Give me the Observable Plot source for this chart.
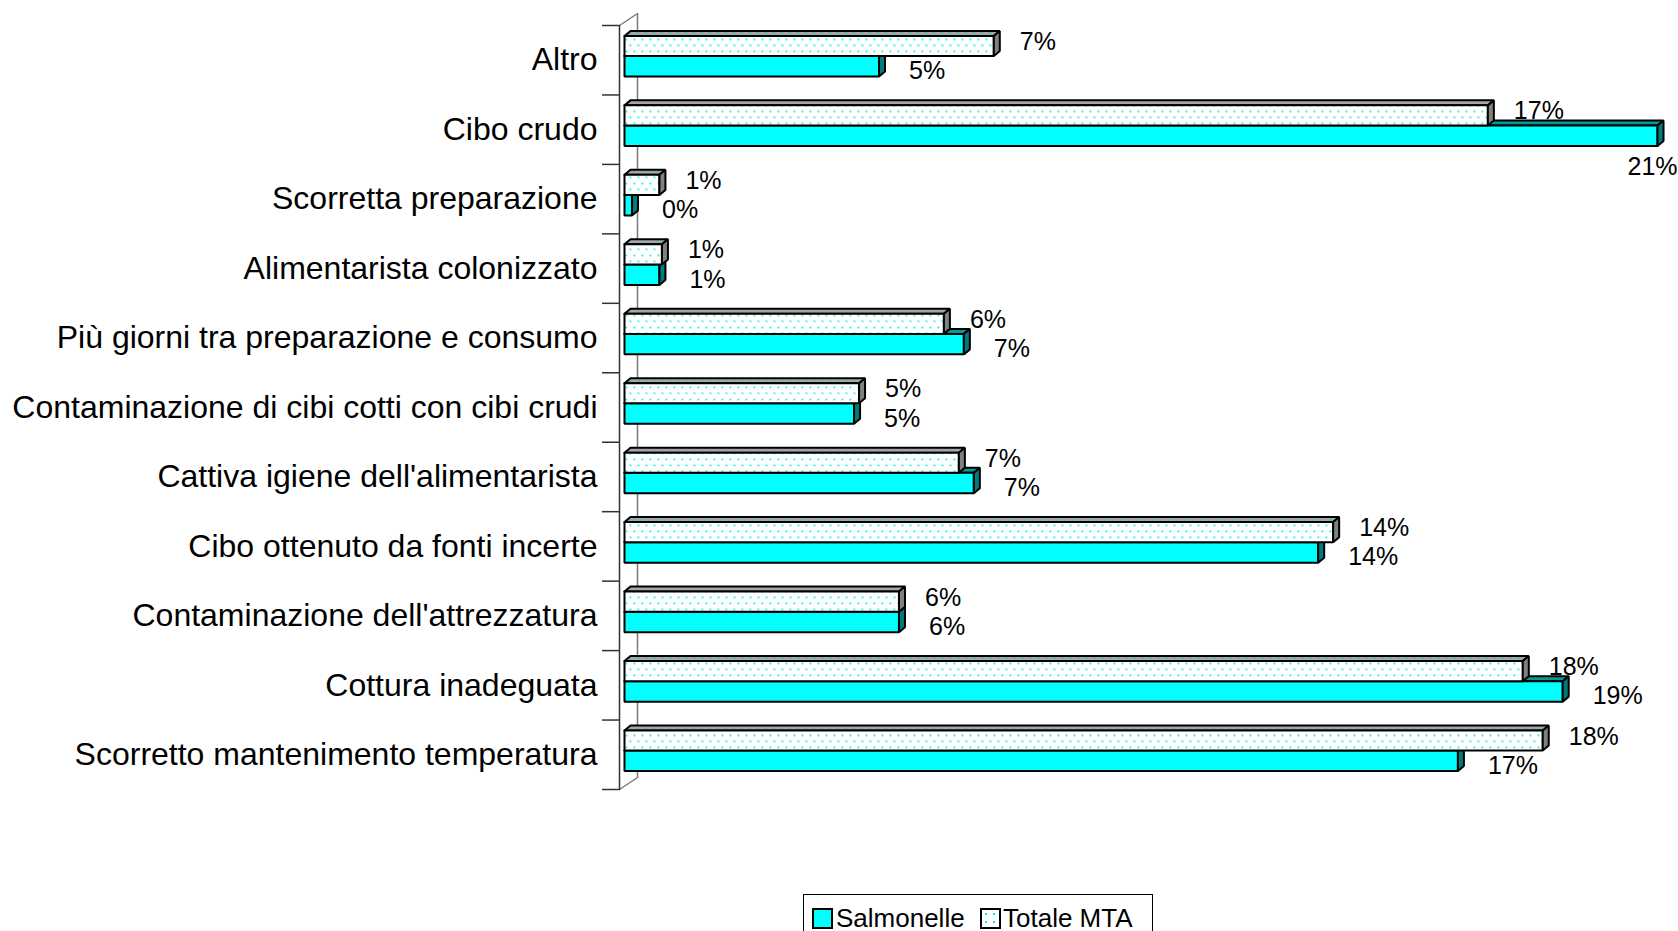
<!DOCTYPE html>
<html><head><meta charset="utf-8">
<script src="https://cdn.jsdelivr.net/npm/d3@7"></script>
<script src="https://cdn.jsdelivr.net/npm/@observablehq/plot@0.6"></script>
<style>
html,body{margin:0;padding:0;background:#fff;overflow:hidden;}
body{width:1678px;height:931px;position:relative;font-family:"Liberation Sans",Arial,sans-serif;}
#chart svg{display:block;}
#legend{position:absolute;left:803px;top:894px;width:350px;height:46px;border:1px solid #000;box-sizing:border-box;background:#fff;}
.sw{position:absolute;top:13px;width:21px;height:21px;box-sizing:border-box;border:2px solid #000;}
.lt{position:absolute;top:8px;font-size:26px;line-height:30px;color:#000;white-space:nowrap;}
</style></head><body>
<svg width="0" height="0" style="position:absolute"><defs>
<pattern id="dots" width="8" height="12" patternUnits="userSpaceOnUse">
<rect width="8" height="12" fill="#fff"/>
<rect x="1" y="2" width="1.7" height="1.7" fill="#00e8e8"/>
<rect x="5" y="8" width="1.7" height="1.7" fill="#00e8e8"/>
</pattern>
<pattern id="dotsTop" width="8" height="12" patternUnits="userSpaceOnUse">
<rect width="8" height="12" fill="#a6a6a6"/>
<rect x="1" y="2" width="1.7" height="1.7" fill="#00d0d0"/>
<rect x="5" y="8" width="1.7" height="1.7" fill="#00d0d0"/>
</pattern>
</defs></svg>
<div id="chart"></div>
<div id="legend">
  <div class="sw" style="left:8px;background:#00ffff"></div>
  <div class="lt" style="left:32px">Salmonelle</div>
  <div class="sw" style="left:176px;background-color:#fff;background-image:radial-gradient(circle,#00e8e8 1px,transparent 1.3px);background-size:8px 8px;"></div>
  <div class="lt" style="left:199px">Totale MTA</div>
</div>
<script>
const categories = [
  "Altro",
  "Cibo crudo",
  "Scorretta preparazione",
  "Alimentarista colonizzato",
  "Più giorni tra preparazione e consumo",
  "Contaminazione di cibi cotti con cibi crudi",
  "Cattiva igiene dell'alimentarista",
  "Cibo ottenuto da fonti incerte",
  "Contaminazione dell'attrezzatura",
  "Cottura inadeguata",
  "Scorretto mantenimento temperatura"
];
const salmonelle = [5.1, 20.7, 0.15, 0.7, 6.8, 4.6, 7.0, 13.9, 5.5, 18.8, 16.7];
const totaleMTA  = [7.4, 17.3, 0.7, 0.75, 6.4, 4.7, 6.7, 14.2, 5.5, 18.0, 18.4];
const seriesNames = ["Salmonelle", "Totale MTA"];

// layout (pixels)
const W = 1678, H = 894, ML = 624, MR = 6, MT = 25, YB = 789;
const XMAX = 21;
const kx = (W - ML - MR) / XMAX;
const ky = (YB - MT) / categories.length;
const fx = p => (p - ML) / kx;
const fy = p => (p - MT) / ky;
const DX = 6 / kx, DY = 5 / ky;   // 3D depth
const slotT = [0.15, 0.44], slotS = [0.44, 0.735];

function faces(values, slot, key) {
  const front = [], top = [], side = [];
  const add = (arr, id, pts) => pts.forEach(([x, y]) => arr.push({id, x, y}));
  values.forEach((v, i) => {
    const a = i + slot[0], b = i + slot[1];
    add(front, key + i, [[0, a], [v, a], [v, b], [0, b], [0, a]]);
    add(top, key + i, [[0, a], [v, a], [v + DX, a - DY], [DX, a - DY], [0, a]]);
    add(side, key + i, [[v, a], [v + DX, a - DY], [v + DX, b - DY], [v, b], [v, a]]);
  });
  return {front, top, side};
}
const S = faces(salmonelle, slotS, "s");
const T = faces(totaleMTA, slotT, "t");
const fmt = v => Math.round(v) + "%";
const lineOpts = (fill) => ({x: "x", y: "y", z: "id", fill, stroke: "#000", strokeWidth: 2, strokeLinejoin: "miter"});

const sData = salmonelle.map((v, i) => ({v, i}));
const tData = totaleMTA.map((v, i) => ({v, i}));
const fits = d => ML + d.v * kx + 30 + 50 <= W;

const chart = Plot.plot({
  width: W, height: H,
  marginLeft: ML, marginRight: MR, marginTop: MT, marginBottom: H - YB,
  style: {fontFamily: "'Liberation Sans', Arial, sans-serif", background: "#fff", color: "#000", overflow: "visible"},
  x: {domain: [0, XMAX], range: [ML, W - MR], axis: null},
  y: {domain: [0, categories.length], range: [MT, YB], axis: null},
  marks: [
    // walls
    Plot.line([[fx(619), 0], [fx(637), fy(13)], [fx(637), fy(777)], [fx(619), categories.length]], {stroke: "#7a7a7a", strokeWidth: 1.5}),
    Plot.line([[fx(619), 0], [fx(619), categories.length]], {stroke: "#333", strokeWidth: 1.5}),
    Plot.ruleY(d3.range(categories.length + 1), {x1: () => fx(602), x2: () => fx(619), stroke: "#333", strokeWidth: 1.5}),
    // category labels
    Plot.text(categories, {x: () => fx(597), y: (d, i) => i + 0.5, text: d => d, textAnchor: "end", fontSize: 32}),
    // Salmonelle bars
    Plot.line(S.top, lineOpts("#009c9c")),
    Plot.line(S.front, lineOpts("#00ffff")),
    Plot.line(S.side, lineOpts("#007b7b")),
    // Totale MTA bars
    Plot.line(T.top, lineOpts("url(#dotsTop)")),
    Plot.line(T.front, lineOpts("url(#dots)")),
    Plot.line(T.side, lineOpts("#808080")),
    // value labels
    Plot.text(tData, {x: "v", y: d => d.i + (slotT[0] + slotT[1]) / 2, text: d => fmt(d.v), dx: 26, dy: -4, textAnchor: "start", fontSize: 25}),
    Plot.text(sData.filter(fits), {x: "v", y: d => d.i + (slotS[0] + slotS[1]) / 2, text: d => fmt(d.v), dx: 30, dy: 5, textAnchor: "start", fontSize: 25}),
    Plot.text(sData.filter(d => !fits(d)), {x: "v", y: d => d.i + slotS[1], text: d => fmt(d.v), dx: 20, dy: 21, textAnchor: "end", fontSize: 25})
  ]
});
document.getElementById("chart").appendChild(chart);
</script>
</body></html>
